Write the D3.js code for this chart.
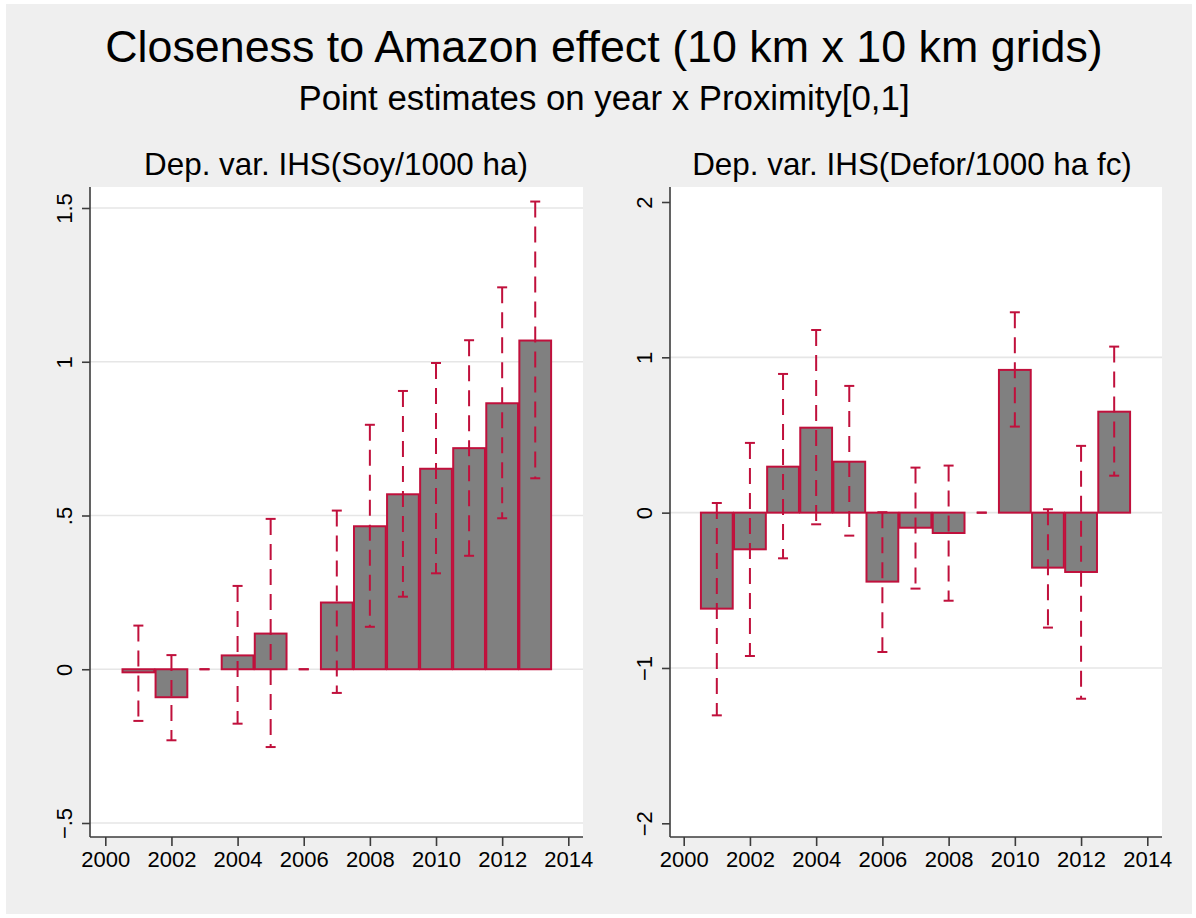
<!DOCTYPE html>
<html>
<head>
    <title>Closeness to Amazon effect</title>
    <script src="https://d3js.org/d3.v7.min.js"></script>
    <style>
        body { margin: 0; background: #ffffff; font-family: "Liberation Sans", Arial, sans-serif; }
        .grid line { stroke: #e6e6e6; stroke-width: 1.6px; }
        .bar { fill: #808080; stroke: #c0103c; stroke-width: 2px; }
        .ci { stroke: #c0103c; stroke-width: 2px; stroke-dasharray: 16 9; }
        .cap { stroke: #c0103c; stroke-width: 2px; }
        .axis path, .axis line { stroke: #3c3c3c; stroke-width: 1.6px; }
        .axis text { font-size: 22px; fill: #000; font-family: "Liberation Sans", Arial, sans-serif; }
    </style>
</head>
<body>
<div id="chart"></div>
<script>
// years with estimates
const years = [2001, 2002, 2003, 2004, 2005, 2006, 2007, 2008, 2009, 2010, 2011, 2012, 2013];

// Dep. var. IHS(Soy/1000 ha)
const soyCoef = [-0.010, -0.091, 0, 0.045, 0.116, 0, 0.217, 0.465, 0.569, 0.652, 0.719, 0.865, 1.069];
const soyLow  = [-0.168, -0.231, 0, -0.177, -0.253, 0, -0.077, 0.138, 0.236, 0.312, 0.369, 0.491, 0.621];
const soyHigh = [0.142, 0.046, 0, 0.271, 0.489, 0, 0.516, 0.795, 0.905, 0.996, 1.070, 1.242, 1.521];

// Dep. var. IHS(Defor/1000 ha fc)
const deforCoef = [-0.618, -0.236, 0.296, 0.547, 0.328, -0.444, -0.097, -0.131, 0, 0.919, -0.354, -0.382, 0.650];
const deforLow  = [-1.305, -0.923, -0.294, -0.075, -0.148, -0.897, -0.489, -0.567, 0, 0.554, -0.740, -1.198, 0.238];
const deforHigh = [0.062, 0.449, 0.893, 1.176, 0.816, 0.003, 0.290, 0.303, 0, 1.290, 0.022, 0.430, 1.069];

// tick values / labels
const xTicks = [2000, 2002, 2004, 2006, 2008, 2010, 2012, 2014];
const soyTicks = [-0.5, 0, 0.5, 1, 1.5];
const soyTickLabels = ["\u2212.5", "0", ".5", "1", "1.5"];
const soyGrid = [-0.5, 0, 0.5, 1, 1.5];
const deforTicks = [-2, -1, 0, 1, 2];
const deforTickLabels = ["\u22122", "\u22121", "0", "1", "2"];
const deforGrid = [-1, 0, 1];

const titleText = "Closeness to Amazon effect (10 km x 10 km grids)";
const subtitleText = "Point estimates on year x Proximity[0,1]";

const width = 1196, height = 918;

const svg = d3.select('#chart').append('svg')
    .attr('width', width)
    .attr('height', height);

// graph region
svg.append('rect')
    .attr('x', 6).attr('y', 4)
    .attr('width', width - 10).attr('height', height - 8)
    .attr('fill', '#efefef');

svg.append('text')
    .attr('x', 604).attr('y', 62)
    .attr('text-anchor', 'middle')
    .style('font-size', '44.8px')
    .text(titleText);

svg.append('text')
    .attr('x', 604).attr('y', 110)
    .attr('text-anchor', 'middle')
    .style('font-size', '34.8px')
    .text(subtitleText);

const panels = [
    {
        title: "Dep. var. IHS(Soy/1000 ha)", titleX: 336,
        left: 90, right: 583, top: 187, bottom: 837,
        xRange: [105.3, 568.3],
        yDomain: [-0.5, 1.5], yRange: [823, 208],
        coef: soyCoef, lo: soyLow, hi: soyHigh,
        ticks: soyTicks, labels: soyTickLabels, grid: soyGrid
    },
    {
        title: "Dep. var. IHS(Defor/1000 ha fc)", titleX: 912,
        left: 670, right: 1162, top: 187, bottom: 837,
        xRange: [683.7, 1147.3],
        yDomain: [-2, 2], yRange: [823.3, 202],
        coef: deforCoef, lo: deforLow, hi: deforHigh,
        ticks: deforTicks, labels: deforTickLabels, grid: deforGrid
    }
];

panels.forEach(p => {
    const x = d3.scaleLinear().domain([2000, 2014]).range(p.xRange);
    const y = d3.scaleLinear().domain(p.yDomain).range(p.yRange);

    const data = years.map((yr, i) => ({ year: yr, coef: p.coef[i], lo: p.lo[i], hi: p.hi[i] }));

    svg.append('rect')
        .attr('x', p.left).attr('y', p.top)
        .attr('width', p.right - p.left).attr('height', p.bottom - p.top)
        .attr('fill', '#ffffff');

    svg.append('text')
        .attr('x', p.titleX)
        .attr('y', 175)
        .attr('text-anchor', 'middle')
        .style('font-size', '31.4px')
        .text(p.title);

    const g = svg.append('g');

    g.append('g').attr('class', 'grid')
        .selectAll('line').data(p.grid)
        .enter().append('line')
        .attr('x1', p.left).attr('x2', p.right)
        .attr('y1', d => y(d)).attr('y2', d => y(d));

    // bars (base year has no bar)
    g.selectAll('.bar').data(data.filter(d => d.coef !== 0))
        .enter().append('rect')
        .attr('class', 'bar')
        .attr('x', d => x(d.year - 0.48))
        .attr('width', d => x(d.year + 0.48) - x(d.year - 0.48))
        .attr('y', d => y(Math.max(0, d.coef)))
        .attr('height', d => Math.abs(y(d.coef) - y(0)));

    // confidence intervals
    g.selectAll('.ci').data(data.filter(d => d.hi !== d.lo))
        .enter().append('line')
        .attr('class', 'ci')
        .attr('x1', d => x(d.year)).attr('x2', d => x(d.year))
        .attr('y1', d => y(d.hi)).attr('y2', d => y(d.lo));

    const capW = 5;
    ['lo', 'hi'].forEach(k => {
        g.selectAll('.cap-' + k).data(data)
            .enter().append('line')
            .attr('class', 'cap cap-' + k)
            .attr('x1', d => x(d.year) - capW).attr('x2', d => x(d.year) + capW)
            .attr('y1', d => y(d[k])).attr('y2', d => y(d[k]));
    });

    // axes
    const xAxis = d3.axisBottom(x).tickValues(xTicks).tickFormat(d3.format('d'))
        .tickSize(9).tickSizeOuter(0).tickPadding(5);
    const xAxisG = svg.append('g').attr('class', 'axis')
        .attr('transform', `translate(0,${p.bottom})`)
        .call(xAxis);
    xAxisG.select('.domain').attr('d', `M${p.left},0H${p.right}`);
    xAxisG.selectAll('text').attr('y', 30).attr('dy', 0);

    const yAxis = d3.axisLeft(y).tickValues(p.ticks)
        .tickFormat((d, i) => p.labels[i])
        .tickSize(8).tickSizeOuter(0);
    const yAxisG = svg.append('g').attr('class', 'axis')
        .attr('transform', `translate(${p.left},0)`)
        .call(yAxis);
    yAxisG.select('.domain').attr('d', `M0,${p.top}V${p.bottom}`);
    yAxisG.selectAll('.tick text')
        .attr('x', null).attr('dy', null)
        .attr('text-anchor', 'middle')
        .attr('transform', 'translate(-18.5,0) rotate(-90)');
});
</script>
</body>
</html>
